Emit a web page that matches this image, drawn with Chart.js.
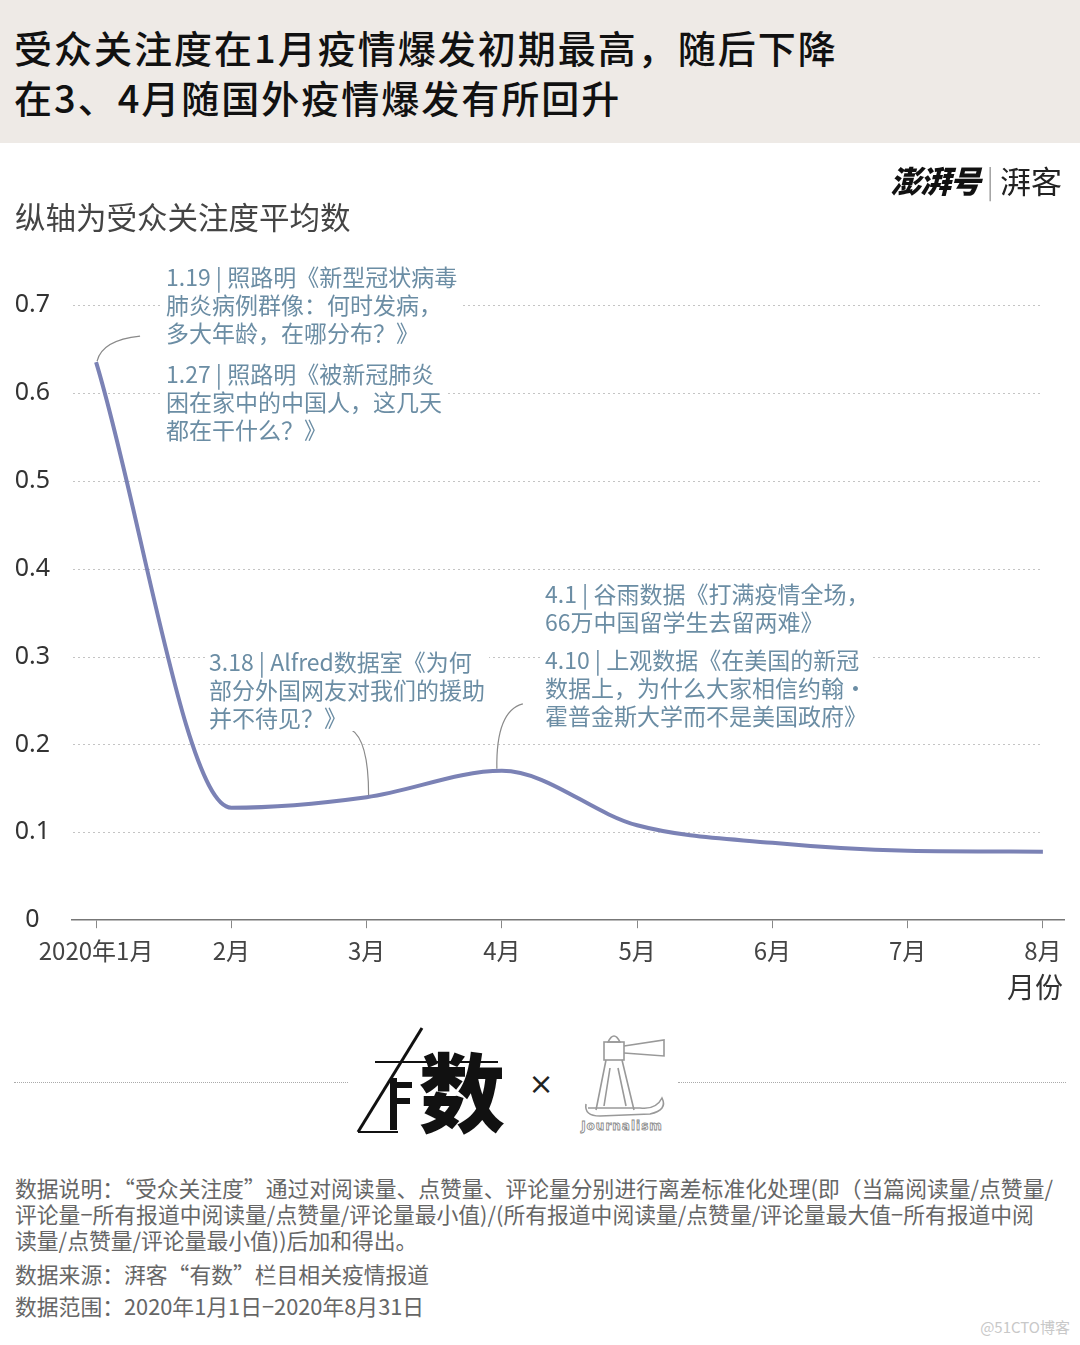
<!DOCTYPE html>
<html>
<head>
<meta charset="utf-8">
<script src="https://cdn.jsdelivr.net/npm/chart.js@4.4.1/dist/chart.umd.min.js"></script>
<style>
  html, body { margin: 0; padding: 0; background: #fff; }
  body { width: 1080px; height: 1345px; position: relative; overflow: hidden;
         font-family: "Noto Sans CJK SC", "Noto Sans", sans-serif; }
  .banner { position: absolute; left: 0; top: 0; width: 1080px; height: 143px; background: #eeeae6; }
  .banner .t { position: absolute; left: 14px; top: 22px; font-size: 38px; line-height: 50px;
               font-weight: 500; color: #111; letter-spacing: 2px; }
  .logo { position: absolute; right: 18px; top: 158px; font-size: 31px; line-height: 44px; white-space: nowrap; }
  .logo .a { font-weight: 900; font-style: italic; color: #111; letter-spacing: -1px; }
  .logo .s { color: #999; font-weight: 300; margin: 0 6px; }
  .logo .b { color: #222; font-weight: 400; }
  .ytitle { position: absolute; left: 15px; top: 194px; font-size: 30.5px; color: #444; }
  .xtitle { position: absolute; left: 1007px; top: 966px; font-size: 28px; color: #333; }
  #wrap { position: absolute; left: 0; top: 0; width: 1080px; height: 1010px; }
  .note { position: absolute; background: #fff; color: #6b8da4; font-size: 23px; line-height: 28px;
          white-space: nowrap; padding: 0 4px; }
  .dots { position: absolute; top: 1082px; border-top: 1.5px dotted #aaa; }
  .foot { position: absolute; left: 15px; color: #666; font-size: 21.8px; line-height: 26px; white-space: nowrap; }
  .wm { position: absolute; right: 10px; top: 1316px; color: #c8c8c8; font-size: 15px; }
</style>
</head>
<body>
<div id="wrap"><canvas id="attnChart" width="1080" height="1010"></canvas></div>

<div class="banner"><div class="t">受众关注度在1月疫情爆发初期最高，随后下降<br>在3、4月随国外疫情爆发有所回升</div></div>
<div class="logo"><span class="a">澎湃号</span><span class="s">|</span><span class="b">湃客</span></div>
<div class="ytitle">纵轴为受众关注度平均数</div>
<div class="xtitle">月份</div>

<div class="note" style="left:162px; top:262px;">1.19 | 照路明《新型冠状病毒<br>肺炎病例群像：何时发病，<br>多大年龄，在哪分布？》</div>
<div class="note" style="left:162px; top:359px;">1.27 | 照路明《被新冠肺炎<br>困在家中的中国人，这几天<br>都在干什么？》</div>
<div class="note" style="left:205px; top:647px;">3.18 | Alfred数据室《为何<br>部分外国网友对我们的援助<br>并不待见？》</div>
<div class="note" style="left:541px; top:579px;">4.1 | 谷雨数据《打满疫情全场，<br>66万中国留学生去留两难》</div>
<div class="note" style="left:541px; top:645px;">4.10 | 上观数据《在美国的新冠<br>数据上，为什么大家相信约翰·<br>霍普金斯大学而不是美国政府》</div>

<div class="dots" style="left:14px; width:334px;"></div>
<div class="dots" style="left:678px; width:388px;"></div>
<svg style="position:absolute; left:350px; top:1020px;" width="330" height="120" viewBox="0 0 330 120">
  <line x1="8" y1="112" x2="72" y2="8" stroke="#111" stroke-width="3"/>
  <line x1="25" y1="42" x2="148" y2="42" stroke="#111" stroke-width="2"/>
  <line x1="8" y1="112" x2="48" y2="112" stroke="#111" stroke-width="2"/>
  <rect x="40" y="58" width="7" height="52" fill="#111"/>
  <rect x="40" y="62" width="22" height="6" fill="#111"/>
  <rect x="40" y="78" width="20" height="6" fill="#111"/>
  <text x="112" y="106" font-size="86" font-weight="900" text-anchor="middle" fill="#111" font-family="Noto Sans CJK SC">数</text>
  <text x="191" y="74" font-size="30" text-anchor="middle" fill="#222" font-family="DejaVu Sans">×</text>
  <g fill="none" stroke="#999" stroke-width="1.6">
    <path d="M258 22 Q264 10 270 22 Z"/>
    <rect x="254" y="22" width="20" height="18"/>
    <path d="M274 26 L314 20 L314 36 L274 33"/>
    <path d="M256 40 L246 90 M272 40 L284 90 M260 48 L254 86 M268 48 L276 86"/>
    <path d="M236 84 Q234 96 250 96 L300 94 Q318 90 312 78 Q306 90 290 88 L238 88"/>
  </g>
  <text x="272" y="110" font-size="12" text-anchor="middle" fill="#fff" stroke="#888" stroke-width="0.8" font-family="DejaVu Sans" font-weight="bold" letter-spacing="1">Journalism</text>
</svg>

<div class="foot" style="top:1175px;">数据说明：“受众关注度”通过对阅读量、点赞量、评论量分别进行离差标准化处理(即（当篇阅读量/点赞量/<br>评论量−所有报道中阅读量/点赞量/评论量最小值)/(所有报道中阅读量/点赞量/评论量最大值−所有报道中阅<br>读量/点赞量/评论量最小值))后加和得出。</div>
<div class="foot" style="top:1261px;">数据来源：湃客“有数”栏目相关疫情报道</div>
<div class="foot" style="top:1293px;">数据范围：2020年1月1日−2020年8月31日</div>
<div class="wm">@51CTO博客</div>

<script>
// x categories and the monthly averages
const months = ["2020年1月", "2月", "3月", "4月", "5月", "6月", "7月", "8月"];
const attention = [0.635, 0.128, 0.14, 0.17, 0.108, 0.088, 0.079, 0.078];
const yTicks = [0, 0.1, 0.2, 0.3, 0.4, 0.5, 0.6, 0.7];

// dotted horizontal guides + thin connector curves from notes to the line
const guides = {
    id: "guides",
    beforeDatasetsDraw(chart) {
        const { ctx, chartArea, scales } = chart;
        const xEnd = scales.x.getPixelForValue(months.length - 1);
        ctx.save();
        ctx.strokeStyle = "#c4c4c4";
        ctx.lineWidth = 1;
        ctx.setLineDash([2, 3]);
        yTicks.forEach(function (v) {
            if (v === 0) return;
            const y = Math.round(scales.y.getPixelForValue(v)) + 0.5;
            ctx.beginPath();
            ctx.moveTo(chartArea.left + 1, y);
            ctx.lineTo(xEnd, y);
            ctx.stroke();
        });
        ctx.restore();
    },
    afterDatasetsDraw(chart) {
        const { ctx, scales } = chart;
        const px = (i) => scales.x.getPixelForValue(i);
        const py = (i) => scales.y.getPixelForValue(attention[i]);
        ctx.save();
        ctx.strokeStyle = "#8a8a8a";
        ctx.lineWidth = 1.2;
        // Jan
        ctx.beginPath();
        ctx.moveTo(px(0) + 1, py(0) - 1);
        ctx.quadraticCurveTo(px(0) + 6, py(0) - 22, px(0) + 44, py(0) - 26);
        ctx.stroke();
        // Mar
        ctx.beginPath();
        ctx.moveTo(px(2) - 16, py(2) - 68);
        ctx.quadraticCurveTo(px(2) + 2, py(2) - 58, px(2) + 2, py(2) - 2);
        ctx.stroke();
        // Apr
        ctx.beginPath();
        ctx.moveTo(px(3) + 21, py(3) - 67);
        ctx.quadraticCurveTo(px(3) - 6, py(3) - 60, px(3) - 5, py(3) - 2);
        ctx.stroke();
        ctx.restore();
    }
};

new Chart(document.getElementById("attnChart").getContext("2d"), {
    type: "line",
    data: {
        datasets: [
            {
                data: months.map((m, i) => ({ x: i, y: attention[i] })),
                borderColor: "#7b82b5",
                borderWidth: 4,
                pointRadius: 0,
                cubicInterpolationMode: "monotone",
                fill: false,
            },
        ],
    },
    options: {
        responsive: false,
        animation: false,
        layout: { padding: { top: 305, bottom: 37, left: 0, right: 16 } },
        plugins: { legend: { display: false }, tooltip: { enabled: false } },
        scales: {
            x: {
                type: "linear",
                min: -0.178,
                max: 7.156,
                afterBuildTicks: (s) => { s.ticks = months.map((m, i) => ({ value: i })); },
                grid: { drawOnChartArea: false, drawTicks: true, tickLength: 8, color: "#888", lineWidth: 1 },
                border: { display: true, color: "#777", width: 1.5 },
                ticks: {
                    padding: 8,
                    color: "#444",
                    font: { family: "Noto Sans CJK SC", size: 24 },
                    maxRotation: 0,
                    autoSkip: false,
                    callback: (v) => months[v],
                },
            },
            y: {
                min: 0,
                max: 0.7,
                afterBuildTicks: (s) => { s.ticks = yTicks.map((v) => ({ value: v })); },
                afterFit: (s) => { s.width = 72; },
                grid: { display: false, drawTicks: false },
                border: { display: false },
                ticks: {
                    crossAlign: "center",
                    padding: 22,
                    color: "#333",
                    font: { family: "Noto Sans", size: 25 },
                    callback: (v) => (v === 0 ? "0" : v.toFixed(1)),
                },
            },
        },
    },
    plugins: [guides],
});
</script>
</body>
</html>
